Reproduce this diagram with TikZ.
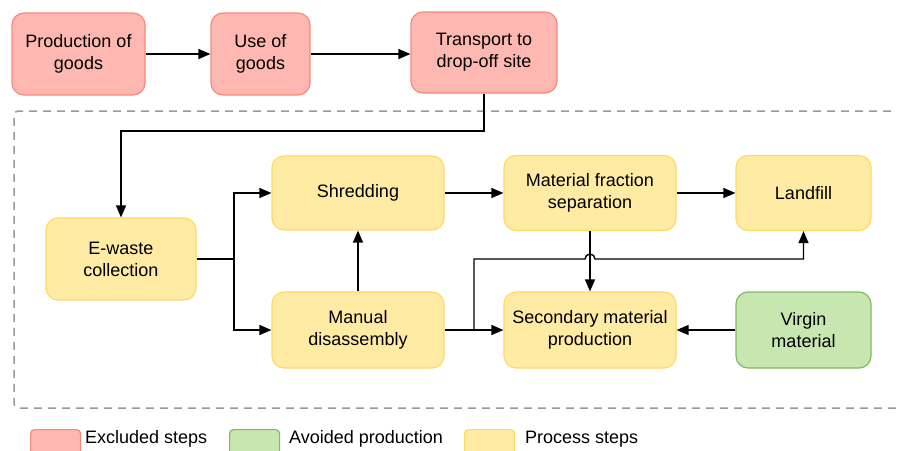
\documentclass[tikz,border=0pt]{standalone}
\usepackage{fontspec}
\setmainfont{Liberation Sans}
\usetikzlibrary{arrows.meta}
\definecolor{redfill}{HTML}{FFB8B1}
\definecolor{reddraw}{HTML}{F8877C}
\definecolor{yelfill}{HTML}{FFEBA3}
\definecolor{yeldraw}{HTML}{FFD966}
\definecolor{grnfill}{HTML}{C8E7B0}
\definecolor{grndraw}{HTML}{82B860}
\tikzset{
  box/.style={rounded corners=12pt, line width=1.2pt, align=center, font=\fontsize{18}{22}\selectfont, inner sep=0pt},
  excl/.style={box, fill=redfill, draw=reddraw},
  proc/.style={box, fill=yelfill, draw=yeldraw},
  avoid/.style={box, fill=grnfill, draw=grndraw},
  conn/.style={line width=1.4pt, -{Triangle[length=12pt,width=10pt]}},
  legtext/.style={font=\fontsize{18}{22}\selectfont, anchor=west, inner sep=0pt},
}
\begin{document}
\begin{tikzpicture}[x=1pt,y=-1pt]
\useasboundingbox (0,0) rectangle (897,450);
% dashed boundary
\draw[gray!80, line width=1.5pt, dash pattern=on 8pt off 6pt, rounded corners=4pt] (905,111) -- (14,111) -- (14,408) -- (905,408);
% nodes
\node[excl, minimum width=133pt, minimum height=82pt] (prod) at (78.5,54) {Production of\\goods};
\node[excl, minimum width=99pt, minimum height=82pt] (use) at (260.5,54) {Use of\\goods};
\node[excl, minimum width=146pt, minimum height=81pt] (trans) at (484,52.5) {Transport to\\drop-off site};
\node[proc, minimum width=150pt, minimum height=82pt] (ewaste) at (121,259) {E-waste\\collection};
\node[proc, minimum width=172pt, minimum height=74pt] (shred) at (358,193) {Shredding};
\node[proc, minimum width=172pt, minimum height=75pt] (mfs) at (590,193) {Material fraction\\separation};
\node[proc, minimum width=135pt, minimum height=75pt] (land) at (803.5,193) {Landfill};
\node[proc, minimum width=172pt, minimum height=76pt] (man) at (358,330) {Manual\\disassembly};
\node[proc, minimum width=172pt, minimum height=76pt] (sec) at (590,330) {Secondary material\\production};
\node[avoid, minimum width=135pt, minimum height=76pt] (virg) at (803.5,330) {Virgin\\material};
% coordinates
\coordinate (tdown) at (484,131);
\coordinate (tleft) at (121,131);
\coordinate (split) at (234,259);
\coordinate (mj) at (474,330);
\coordinate (mup) at (474,259);
\coordinate (lright) at (803.5,259);
% connectors
\draw[conn] (prod.east) -- (use.west);
\draw[conn] (use.east) -- (use.east -| trans.west);
\draw[conn] (trans.south) -- (tdown) -- (tleft) -- (ewaste.north);
\draw[line width=1.4pt] (ewaste.east |- split) -- (split);
\draw[conn] (split) |- (shred.west);
\draw[conn] (split) |- (man.west);
\draw[conn] (man.north) -- (shred.south);
\draw[conn] (shred.east) -- (shred.east -| mfs.west);
\draw[conn] (mfs.east) -- (land.west);
\draw[conn] (mfs.south) -- (sec.north);
\draw[conn] (man.east) -- (sec.west);
\draw[conn] (mj) -- (mup) -- (585,259) arc[start angle=180, end angle=0, radius=5pt] -- (lright) -- (land.south);
\draw[conn] (virg.west) -- (sec.east);
% legend
\node[excl, rounded corners=4pt, minimum width=50pt, minimum height=30pt, anchor=north west] (lg1) at (30,429) {};
\node[legtext] (lt1) at (85,439) {Excluded steps};
\node[avoid, rounded corners=4pt, minimum width=50pt, minimum height=30pt, anchor=north west] (lg2) at (229,429) {};
\node[legtext] (lt2) at (289,439) {Avoided production};
\node[proc, rounded corners=4pt, minimum width=50pt, minimum height=30pt, anchor=north west] (lg3) at (464,429) {};
\node[legtext] (lt3) at (525,439) {Process steps};
\end{tikzpicture}
\end{document}
